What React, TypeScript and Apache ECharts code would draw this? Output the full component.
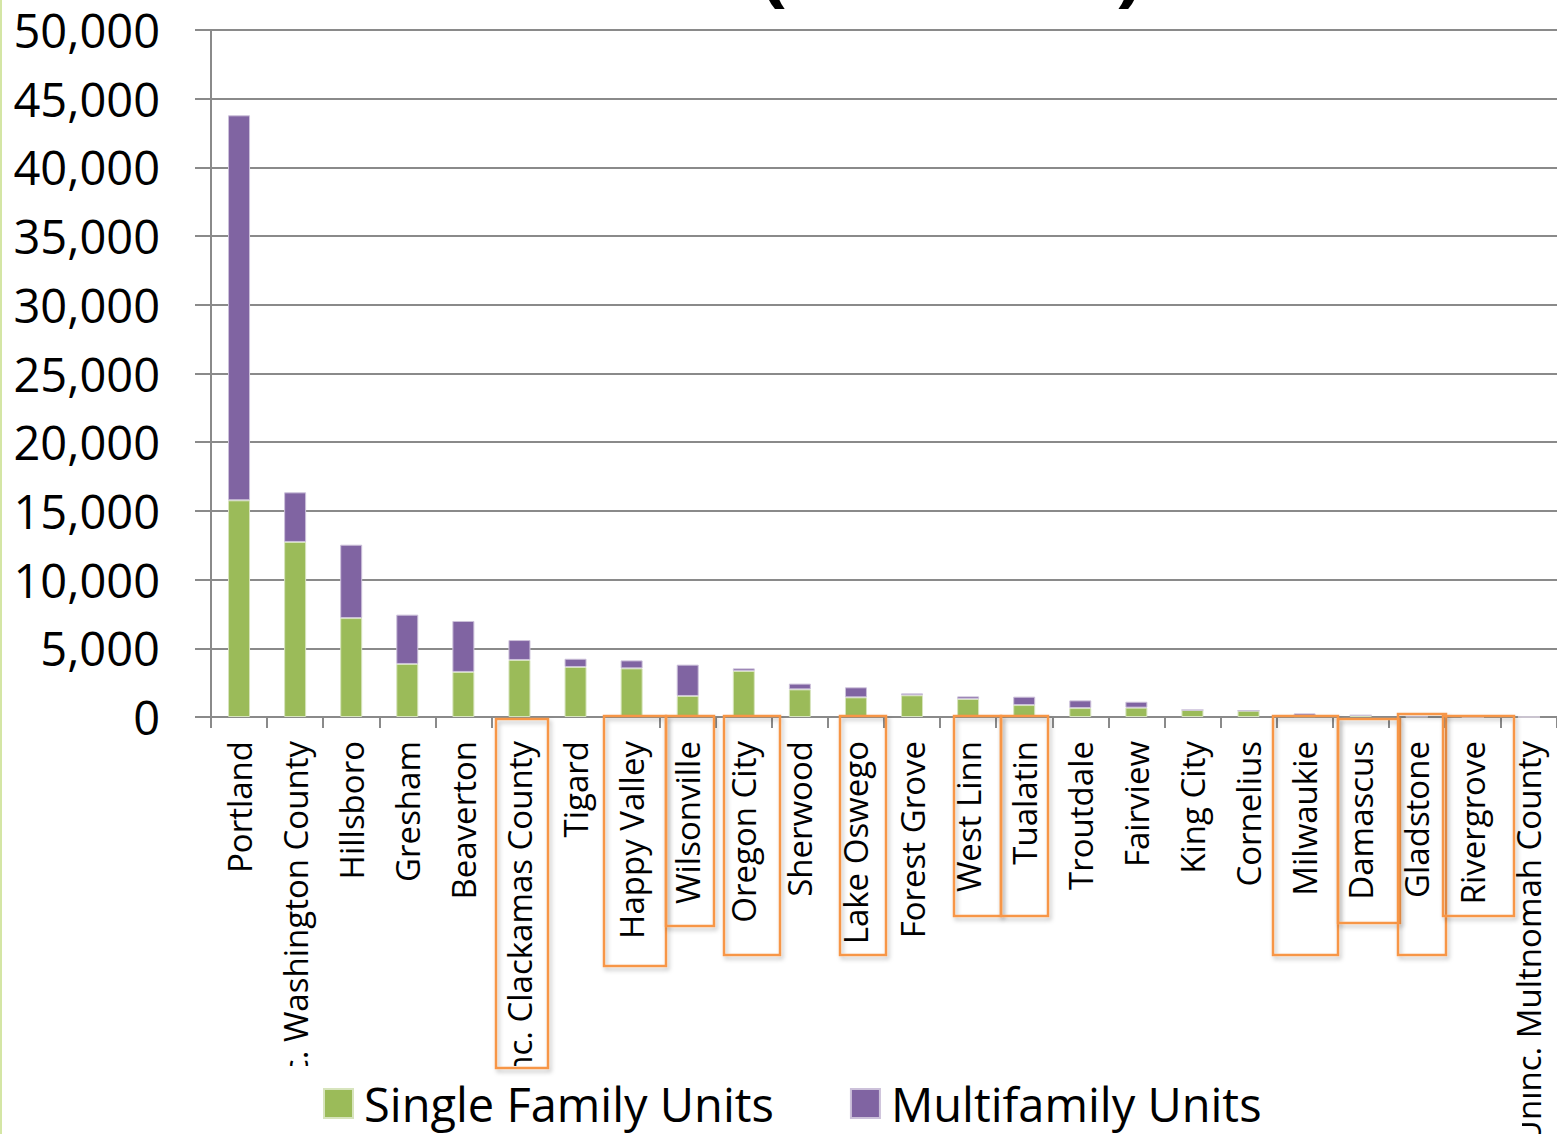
import React, { useEffect, useRef } from "react";
import * as echarts from "echarts";

const categories = [
  "Portland",
  "Uninc. Washington County",
  "Hillsboro",
  "Gresham",
  "Beaverton",
  "Uninc. Clackamas County",
  "Tigard",
  "Happy Valley",
  "Wilsonville",
  "Oregon City",
  "Sherwood",
  "Lake Oswego",
  "Forest Grove",
  "West Linn",
  "Tualatin",
  "Troutdale",
  "Fairview",
  "King City",
  "Cornelius",
  "Milwaukie",
  "Damascus",
  "Gladstone",
  "Rivergrove",
  "Uninc. Multnomah County",
];

const singleFamily = [
  15770, 12740, 7200, 3860, 3280, 4150, 3640, 3540, 1530, 3350, 2010, 1430,
  1580, 1310, 870, 650, 680, 510, 460, 60, 120, 20, 0, 0,
];

const multiFamily = [
  28020, 3610, 5340, 3590, 3710, 1450, 600, 580, 2280, 190, 420, 730, 140,
  190, 610, 560, 430, 0, 0, 200, 10, 0, 0, 0,
];

const seriesNames = ["Single Family Units", "Multifamily Units"];
const yTicks = { min: 0, max: 50000, interval: 5000 };

// highlight boxes drawn over the category labels: [left, top, right, bottom]
const highlightBoxes = [
  [496, 719, 548, 1068],
  [604, 716, 666, 966],
  [666, 716, 714, 926],
  [724, 716, 780, 955],
  [840, 716, 886, 955],
  [954, 716, 1001, 916],
  [1001, 716, 1048, 916],
  [1273, 716, 1338, 955],
  [1338, 719, 1400, 923],
  [1398, 714, 1446, 955],
  [1443, 716, 1514, 916],
];

export default function App() {
  const ref = useRef<HTMLDivElement>(null);

  useEffect(() => {
    document.body.style.margin = "0";
    if (!ref.current) return;
    const chart = echarts.init(ref.current, undefined, { renderer: "svg" });

    const boxes = highlightBoxes.map((b) => ({
      type: "rect",
      z: 150,
      shape: { x: b[0], y: b[1], width: b[2] - b[0], height: b[3] - b[1] },
      style: {
        fill: "none",
        stroke: "#F79646",
        lineWidth: 2.5,
        shadowBlur: 4,
        shadowOffsetX: 2,
        shadowOffsetY: 3,
        shadowColor: "rgba(0,0,0,0.25)",
      },
    }));

    chart.setOption({
      animation: false,
      backgroundColor: "#ffffff",
      textStyle: { fontFamily: "Open Sans" },
      grid: {
        left: 211,
        right: 0,
        top: 30,
        bottom: 417,
        containLabel: false,
        outerBoundsMode: "none",
      },
      legend: {
        bottom: 2,
        left: 318,
        z: 200,
        itemWidth: 29,
        itemHeight: 29,
        itemGap: 76,
        icon: "rect",
        textStyle: {
          fontFamily: "Open Sans",
          fontSize: 47,
          color: "#000",
          padding: [0, 0, 0, 6],
        },
        data: seriesNames,
      },
      xAxis: {
        type: "category",
        data: categories,
        axisLine: { lineStyle: { color: "#8a8a8a", width: 2 } },
        axisTick: { show: true, length: 11, lineStyle: { color: "#8a8a8a", width: 2 } },
        axisLabel: {
          rotate: 90,
          interval: 0,
          margin: 24,
          fontSize: 33,
          color: "#000",
          fontFamily: "Open Sans",
        },
      },
      yAxis: {
        type: "value",
        min: yTicks.min,
        max: yTicks.max,
        interval: yTicks.interval,
        axisLine: { show: true, lineStyle: { color: "#8a8a8a", width: 2 } },
        axisTick: { show: true, length: 16, lineStyle: { color: "#8a8a8a", width: 2 } },
        splitLine: { lineStyle: { color: "#8a8a8a", width: 2 } },
        axisLabel: {
          margin: 51,
          fontSize: 47,
          color: "#000",
          fontFamily: "Open Sans",
          formatter: (v: number) => v.toLocaleString("en-US"),
        },
      },
      series: [
        {
          name: seriesNames[0],
          type: "bar",
          stack: "units",
          barWidth: 22,
          data: singleFamily,
          itemStyle: { color: "#9BBB59", borderColor: "#D7E4BD", borderWidth: 1 },
        },
        {
          name: seriesNames[1],
          type: "bar",
          stack: "units",
          barWidth: 22,
          data: multiFamily,
          itemStyle: { color: "#8064A2", borderColor: "#CCC1DA", borderWidth: 1 },
        },
      ],
      graphic: [
        // left edge accent
        {
          type: "rect",
          z: 100,
          shape: { x: 0, y: 0, width: 2, height: 1134 },
          style: { fill: "#D4E6A5" },
        },
        // crop of long category labels (bottom part hidden in the reference)
        {
          type: "rect",
          z: 100,
          shape: { x: 212, y: 1066, width: 1310, height: 68 },
          style: { fill: "#ffffff" },
        },
        // bottom of the cropped title's parentheses
        {
          type: "text",
          z: 100,
          x: 760,
          y: 4,
          style: {
            text: "(",
            fontSize: 80,
            fontWeight: "bold",
            fontFamily: "Open Sans",
            fill: "#000",
            textVerticalAlign: "bottom",
          },
        },
        {
          type: "text",
          z: 100,
          x: 1116,
          y: 4,
          style: {
            text: ")",
            fontSize: 80,
            fontWeight: "bold",
            fontFamily: "Open Sans",
            fill: "#000",
            textVerticalAlign: "bottom",
          },
        },
        ...boxes,
      ],
    });

    return () => chart.dispose();
  }, []);

  return (
    <div
      ref={ref}
      style={{ position: "absolute", left: 0, top: 0, width: 1557, height: 1134 }}
    />
  );
}
